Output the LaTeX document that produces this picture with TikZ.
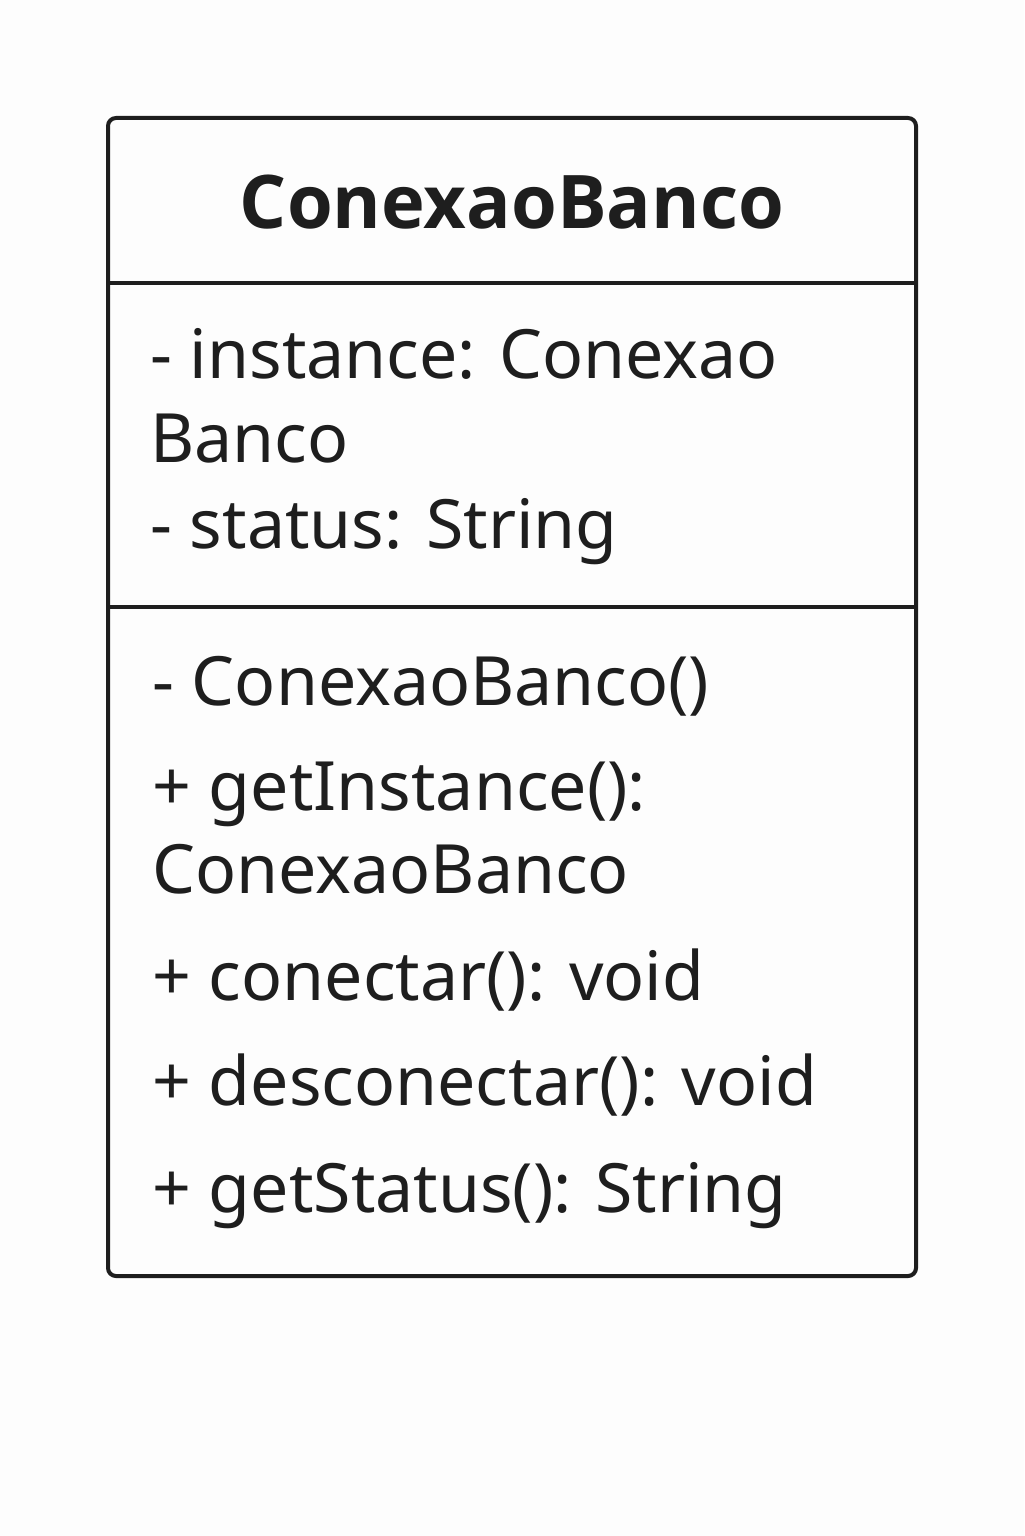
\documentclass[tikz,border=0pt]{standalone}
\usepackage{fontspec}
\setmainfont{Noto Sans}
\newfontfamily\titlefont{Open Sans}
\definecolor{ink}{HTML}{1E1E1E}
\definecolor{bg}{HTML}{FDFDFD}
\begin{document}
\begin{tikzpicture}[x=0.5pt,y=-0.5pt,
  member/.style={anchor=base west,inner sep=0pt,text=ink,font=\fontsize{34}{40}\selectfont},
  titlestyle/.style={anchor=base,inner sep=0pt,text=ink,font=\titlefont\fontsize{37}{44}\selectfont\bfseries},
  boxline/.style={draw=ink,line width=2pt}]
\fill[bg] (0,0) rectangle (1024,1536);
\useasboundingbox (0,0) rectangle (1024,1536);
\draw[boxline,rounded corners=4pt] (108,118) rectangle (916,1276);
\coordinate (d1l) at (108,283); \coordinate (d1r) at (916,283);
\coordinate (d2l) at (108,607); \coordinate (d2r) at (916,607);
\draw[boxline] (d1l) -- (d1r);
\draw[boxline] (d2l) -- (d2r);
\node[titlestyle] (title) at (512,228) {ConexaoBanco};
\node[member] (a1) at (150,378) {- instance: Conexao};
\node[member] (a2) at (150,462) {Banco};
\node[member] (a3) at (150,548) {- status: String};
\node[member] (m1) at (152,705) {- ConexaoBanco()};
\node[member] (m2) at (152,810) {+ getInstance():};
\node[member] (m3) at (152,893) {ConexaoBanco};
\node[member] (m4) at (152,1000) {+ conectar(): void};
\node[member] (m5) at (152,1105) {+ desconectar(): void};
\node[member] (m6) at (152,1212) {+ getStatus(): String};
\end{tikzpicture}
\end{document}
